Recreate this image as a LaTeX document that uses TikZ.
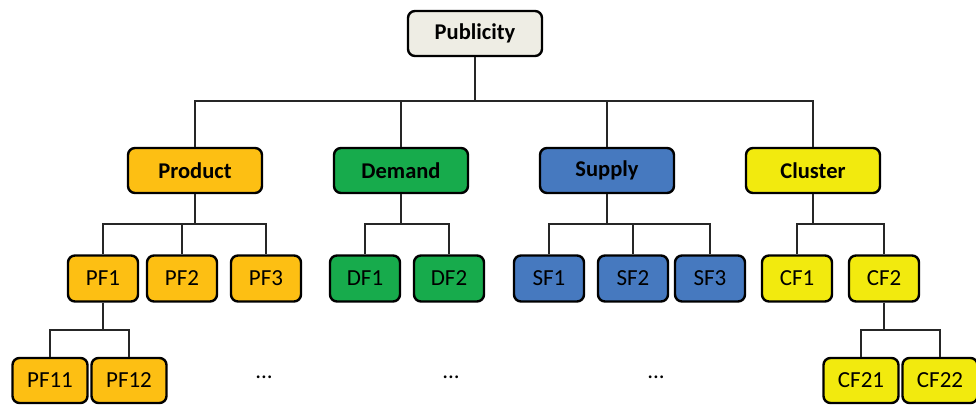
\documentclass[tikz,border=0pt]{standalone}
\usepackage{fontspec}
\setmainfont{Carlito}

\definecolor{pubfill}{HTML}{EEEDE4}
\definecolor{prodfill}{HTML}{FDBF13}
\definecolor{demfill}{HTML}{17AB4C}
\definecolor{supfill}{HTML}{4679BF}
\definecolor{clufill}{HTML}{F2EA0E}

\begin{document}
\begin{tikzpicture}[
  x=1pt, y=-1pt,
  box/.style={draw=black, rounded corners=7pt, line width=2.4pt, inner sep=0pt,
    align=center, font=\fontsize{23}{27}\selectfont},
  headbox/.style={box, minimum width=134pt, minimum height=45pt,
    font=\fontsize{22.5}{27}\selectfont\bfseries},
  leafbox/.style={box, minimum width=70pt, minimum height=46pt},
  subbox/.style={box, minimum width=75pt, minimum height=45pt},
  conn/.style={line width=1.2pt, draw=black!85},
  dots/.style={font=\fontsize{23}{27}\selectfont}
]
  \useasboundingbox (0,0) rectangle (976,405);

  % Root
  \node[headbox, fill=pubfill] (pub) at (475,33.5) {Publicity};

  % First layer
  \node[headbox, fill=prodfill] (prod) at (195,170.5) {Product};
  \node[headbox, fill=demfill]  (dem)  at (401,170.5) {Demand};
  \node[headbox, fill=supfill]  (sup)  at (607,170.5) {Supply};
  \node[headbox, fill=clufill]  (clu)  at (813,170.5) {Cluster};

  % Second layer
  \node[leafbox, fill=prodfill] (pf1) at (103,278.5) {PF1};
  \node[leafbox, fill=prodfill] (pf2) at (182,278.5) {PF2};
  \node[leafbox, fill=prodfill] (pf3) at (266,278.5) {PF3};
  \node[leafbox, fill=demfill]  (df1) at (365,278.5) {DF1};
  \node[leafbox, fill=demfill]  (df2) at (449,278.5) {DF2};
  \node[leafbox, fill=supfill]  (sf1) at (549,278.5) {SF1};
  \node[leafbox, fill=supfill]  (sf2) at (633,278.5) {SF2};
  \node[leafbox, fill=supfill]  (sf3) at (710,278.5) {SF3};
  \node[leafbox, fill=clufill]  (cf1) at (797,278.5) {CF1};
  \node[leafbox, fill=clufill]  (cf2) at (884,278.5) {CF2};

  % Third layer
  \node[subbox, fill=prodfill] (pf11) at (50,380.5)  {PF11};
  \node[subbox, fill=prodfill] (pf12) at (129,380.5) {PF12};
  \node[subbox, fill=clufill]  (cf21) at (861,380.5) {CF21};
  \node[subbox, fill=clufill]  (cf22) at (940,380.5) {CF22};

  \node[dots] (dots1) at (264,377) {...};
  \node[dots] (dots2) at (451,377) {...};
  \node[dots] (dots3) at (656,377) {...};

  % Bus heights
  \coordinate (lvl1) at (0,101);
  \coordinate (lvl2) at (0,224);
  \coordinate (lvl3) at (0,330);

  % Connectors
  \foreach \c in {prod,dem,sup,clu}
    \draw[conn] (pub.south) -- (pub.south |- lvl1) -| (\c.north);
  \foreach \c in {pf1,pf2,pf3}
    \draw[conn] (prod.south) -- (prod.south |- lvl2) -| (\c.north);
  \foreach \c in {df1,df2}
    \draw[conn] (dem.south) -- (dem.south |- lvl2) -| (\c.north);
  \foreach \c in {sf1,sf2,sf3}
    \draw[conn] (sup.south) -- (sup.south |- lvl2) -| (\c.north);
  \foreach \c in {cf1,cf2}
    \draw[conn] (clu.south) -- (clu.south |- lvl2) -| (\c.north);
  \foreach \c in {pf11,pf12}
    \draw[conn] (pf1.south) -- (pf1.south |- lvl3) -| (\c.north);
  \foreach \c in {cf21,cf22}
    \draw[conn] (cf2.south) -- (cf2.south |- lvl3) -| (\c.north);

\end{tikzpicture}
\end{document}
